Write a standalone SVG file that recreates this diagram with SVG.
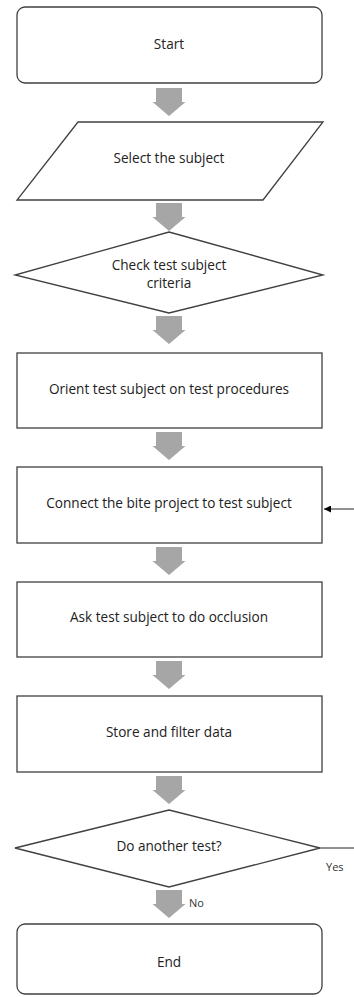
<svg xmlns="http://www.w3.org/2000/svg" width="354" height="997" viewBox="0 0 354 997">
<style>
.n{fill:#fff;stroke:#404040;stroke-width:1.3}
.t{font-family:"Open Sans",sans-serif;font-size:13.6px;fill:#222;text-anchor:middle}
.l{font-family:"Open Sans",sans-serif;font-size:11px;fill:#333}
.ba{fill:#a6a6a6}
.c{fill:none;stroke:#222;stroke-width:1}
</style>
<defs>
<marker id="ah" viewBox="0 0 10 10" refX="10" refY="5" markerWidth="7" markerHeight="7" orient="auto" markerUnits="userSpaceOnUse">
<path d="M0,0 L10,5 L0,10 z" fill="#000"/>
</marker>
<path id="bar" d="M-13,0 H13 V14 H16.5 L0,28 L-16.5,14 H-13 Z"/>
</defs>
<rect width="354" height="997" fill="#fff"/>
<g id="connectors">
<use href="#bar" class="ba" x="169" y="88"/>
<use href="#bar" class="ba" x="169" y="203"/>
<use href="#bar" class="ba" x="169" y="316"/>
<use href="#bar" class="ba" x="169" y="432"/>
<use href="#bar" class="ba" x="169" y="547"/>
<use href="#bar" class="ba" x="169" y="661"/>
<use href="#bar" class="ba" x="169" y="776"/>
<use href="#bar" class="ba" x="169" y="890"/>
<path class="c" d="M320,848 H354"/>
<path class="c" d="M354,509 H324" marker-end="url(#ah)"/>
<text class="l" x="326" y="871">Yes</text>
<text class="l" x="189" y="907">No</text>
</g>
<g id="start"><rect class="n" x="17" y="7" width="305" height="76" rx="8"/><text class="t" x="169" y="49">Start</text></g>
<g id="select"><path class="n" d="M78,122 H323 L263,200 H17 Z"/><text class="t" x="169" y="163">Select the subject</text></g>
<g id="check"><path class="n" d="M169,232 L323,275 L169,313 L15,275 Z"/><text class="t" x="169" y="270">Check test subject</text><text class="t" x="169" y="288">criteria</text></g>
<g id="orient"><rect class="n" x="17" y="353" width="305" height="75"/><text class="t" x="169" y="394">Orient test subject on test procedures</text></g>
<g id="connect"><rect class="n" x="17" y="467" width="305" height="76"/><text class="t" x="169" y="508">Connect the bite project to test subject</text></g>
<g id="ask"><rect class="n" x="17" y="582" width="305" height="75"/><text class="t" x="169" y="622">Ask test subject to do occlusion</text></g>
<g id="store"><rect class="n" x="17" y="696" width="305" height="76"/><text class="t" x="169" y="737">Store and filter data</text></g>
<g id="another"><path class="n" d="M169,810 L320,848 L169,887 L15,848 Z"/><text class="t" x="169" y="851">Do another test?</text></g>
<g id="end"><rect class="n" x="17" y="924" width="305" height="70" rx="8"/><text class="t" x="169" y="967">End</text></g>
</svg>
